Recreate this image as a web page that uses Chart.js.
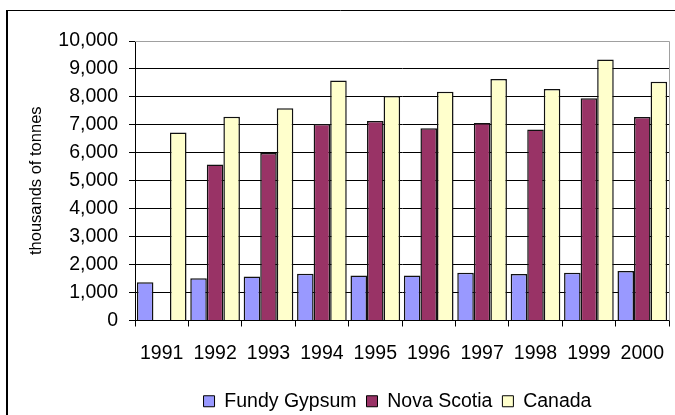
<!DOCTYPE html>
<html>
<head>
<meta charset="utf-8">
<script src="https://cdn.jsdelivr.net/npm/chart.js@4"></script>
<style>
  html, body { margin: 0; padding: 0; background: #ffffff; }
  #wrap { width: 675px; height: 415px; position: relative; }
</style>
</head>
<body>
<div id="wrap"><canvas id="gypsumChart" width="675" height="415"></canvas></div>
<script>
// ====================================
// DATA
// ====================================
const years = ["1991", "1992", "1993", "1994", "1995", "1996", "1997", "1998", "1999", "2000"];
const fundyGypsum = [1370, 1515, 1570, 1670, 1610, 1610, 1710, 1660, 1710, 1770];
const novaScotia = [null, 5580, 5990, 7030, 7140, 6880, 7070, 6830, 7950, 7280];
const canada = [6730, 7290, 7590, 8590, 8030, 8180, 8640, 8280, 9340, 8540];
const yTicks = [0, 1000, 2000, 3000, 4000, 5000, 6000, 7000, 8000, 9000, 10000];

const FONT = "Arial, 'Liberation Sans', sans-serif";

// outer frame + grey plot border on top/right
const framePlugin = {
  id: "frame",
  beforeDraw(chart) {
    const ctx = chart.ctx;
    ctx.save();
    ctx.fillStyle = "#ffffff";
    ctx.fillRect(0, 0, chart.width, chart.height);
    ctx.strokeStyle = "#000000";
    ctx.lineWidth = 2;
    ctx.beginPath();
    ctx.moveTo(7, 10);
    ctx.lineTo(7, chart.height);
    ctx.stroke();
    ctx.lineWidth = 1;
    ctx.beginPath();
    ctx.moveTo(6, 10.5);
    ctx.lineTo(chart.width, 10.5);
    ctx.stroke();
    ctx.restore();
  },
  afterDatasetsDraw(chart) {
    const a = chart.chartArea;
    const ctx = chart.ctx;
    ctx.save();
    ctx.strokeStyle = "#a0a0a0";
    ctx.lineWidth = 1;
    ctx.beginPath();
    ctx.moveTo(a.left, a.top + 0.5);
    ctx.lineTo(a.right + 0.5, a.top + 0.5);
    ctx.lineTo(a.right + 0.5, a.bottom);
    ctx.stroke();
    ctx.restore();
  },
  afterLayout(chart) {
    // legend sits centred under the plot, not the canvas, and a bit lower
    chart.legend.left += 63;
    chart.legend.right += 63;
    chart.legend.top += 6;
    chart.legend.bottom += 6;
  }
};

new Chart(document.getElementById("gypsumChart").getContext("2d"), {
  type: "bar",
  data: {
    labels: years,
    datasets: [
      {
        label: "Fundy Gypsum",
        data: fundyGypsum,
        backgroundColor: "#9999ff",
        borderColor: "#111111",
        borderWidth: 1.5,
      },
      {
        label: "Nova Scotia",
        data: novaScotia,
        backgroundColor: "#993366",
        borderColor: "#111111",
        borderWidth: 1.5,
      },
      {
        label: "Canada",
        data: canada,
        backgroundColor: "#ffffcc",
        borderColor: "#111111",
        borderWidth: 1.5,
      },
    ],
  },
  options: {
    responsive: false,
    animation: false,
    devicePixelRatio: 1,
    layout: { padding: { left: 0, right: 6, top: 41, bottom: 0 } },
    datasets: {
      bar: { categoryPercentage: 0.93, barPercentage: 1.0 },
    },
    plugins: {
      tooltip: { enabled: false },
      legend: {
        position: "bottom",
        labels: {
          color: "#000000",
          font: { family: FONT, size: 19.5 },
          boxWidth: 11,
          boxHeight: 11,
          padding: 10,
          generateLabels(chart) {
            return chart.data.datasets.map(function (ds, i) {
              return {
                text: ds.label,
                fillStyle: ds.backgroundColor,
                strokeStyle: "#000000",
                lineWidth: 1,
                datasetIndex: i,
              };
            });
          },
        },
      },
    },
    scales: {
      x: {
        afterFit(scale) {
          scale.height = 55;
          // labels fit inside their categories, no side padding needed
          scale.paddingLeft = 0;
          scale.paddingRight = 0;
        },
        grid: {
          drawOnChartArea: false,
          drawTicks: true,
          tickLength: 6,
          color: "#000000",
        },
        border: { display: true, color: "#000000" },
        ticks: {
          color: "#000000",
          font: { family: FONT, size: 19.5 },
          padding: 15,
          maxRotation: 0,
        },
      },
      y: {
        min: 0,
        max: 10000,
        afterFit(scale) {
          scale.width = 135;
        },
        afterBuildTicks(scale) {
          scale.ticks = yTicks.map((v) => ({ value: v }));
        },
        grid: {
          color: function (c) {
            return c.tick && c.tick.value === 10000 ? "#a0a0a0" : "#000000";
          },
          tickColor: "#000000",
          drawTicks: true,
          tickLength: 6,
        },
        border: { display: true, color: "#000000" },
        ticks: {
          color: "#000000",
          font: { family: FONT, size: 19.5 },
          padding: 11,
          callback: function (value) {
            return value.toLocaleString("en-US");
          },
        },
        title: {
          display: true,
          text: "thousands of tonnes",
          color: "#000000",
          font: { family: FONT, size: 16.5 },
          padding: { top: 27, bottom: 0 },
        },
      },
    },
  },
  plugins: [framePlugin],
});
</script>
</body>
</html>
